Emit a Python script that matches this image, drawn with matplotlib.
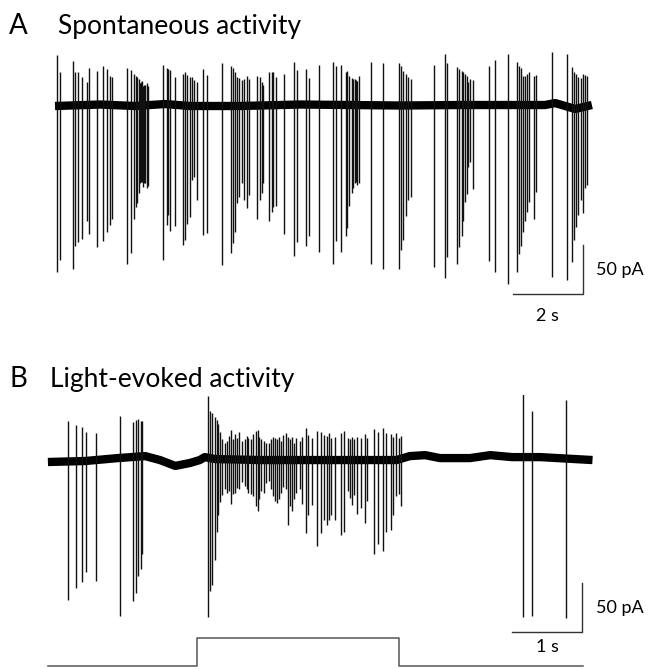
import numpy as np
import matplotlib
matplotlib.use("Agg")
import matplotlib.pyplot as plt

plt.rcParams['font.family'] = ['Lato', 'DejaVu Sans']

# ---------------- Panel A: spontaneous activity (time s, amplitude pA) ----------------
a_spike_t = [0.05, 0.14, 0.52, 0.57, 0.67, 0.76, 0.91, 0.98, 1.21, 1.38, 1.48, 1.57, 1.64,
             2.07, 2.16, 2.27, 2.31, 2.35, 2.39, 2.43, 2.46, 2.48, 2.52, 2.55, 2.57, 2.62, 2.67,
             3.08, 3.19, 3.24, 3.29, 3.43, 3.65, 3.71, 3.78, 3.86, 3.91, 3.97, 4.05, 4.24, 4.35,
             4.76, 5.02, 5.09, 5.14, 5.19, 5.27, 5.33, 5.40, 5.49, 5.53, 5.78, 5.86, 5.91, 5.95,
             6.12, 6.19, 6.24, 6.31, 6.54, 6.84, 6.92, 7.17, 7.26, 7.53, 7.93, 8.03, 8.17, 8.31,
             8.35, 8.41, 8.48, 8.52, 8.56, 8.60, 8.64, 8.68, 9.03, 9.36, 9.84, 9.89, 9.95, 10.03,
             10.09, 10.16, 10.83, 11.13, 11.21, 11.49, 11.55, 11.62, 11.67, 11.71, 11.76, 11.81,
             11.86, 11.95, 12.40, 12.57, 12.93, 13.19, 13.25, 13.31, 13.36, 13.43, 13.49, 13.55,
             13.69, 13.74, 14.20, 14.62, 14.76, 14.83, 14.89, 14.95, 15.02, 15.09, 15.15, 15.21]
a_spike_up = [52, 35, 45, 34, 34, 29, 23, 38, 34, 39, 37, 30, 29,
              38, 37, 33, 31, 29, 27, 23, 24, 25, 20, 21, 21, 23, 20,
              40, 37, 36, 35, 28, 32, 34, 31, 30, 30, 27, 24, 38, 32,
              44, 41, 39, 35, 30, 29, 27, 27, 30, 27, 30, 29, 24, 21,
              34, 34, 34, 29, 32, 44, 35, 36, 27, 41, 44, 40, 41, 34,
              35, 30, 28, 27, 27, 26, 25, 30, 44, 43, 43, 40, 35, 32,
              29, 27, 41, 52, 43, 39, 37, 35, 34, 32, 30, 24,
              27, 26, 40, 46, 52, 44, 40, 38, 30, 30, 32, 34,
              30, 31, 53, 54, 42, 37, 35, 32, 30, 34, 32, 31]
a_spike_down = [169, 157, 167, 144, 140, 137, 118, 132, 145, 139, 130, 123, 116,
                162, 150, 115, 103, 99, 89, 79, 78, 78, 83, 79, 79, 84, 83,
                159, 123, 113, 129, 124, 142, 137, 121, 113, 75, 72, 96, 132, 130,
                162, 150, 140, 129, 99, 93, 79, 96, 104, 91, 116, 96, 89, 79,
                118, 109, 104, 103, 132, 154, 140, 144, 134, 150, 162, 139, 150, 134,
                126, 103, 90, 85, 80, 79, 82, 79, 162, 167, 167, 147, 137, 113,
                96, 93, 165, 176, 155, 162, 145, 134, 118, 99, 91, 63,
                58, 86, 159, 170, 183, 170, 152, 144, 130, 118, 109, 99,
                116, 89, 177, 177, 157, 134, 121, 109, 94, 108, 83, 81]
a_base_t = [0.0, 1.29, 2.29, 3.14, 3.86, 5.29, 7.0, 9.86, 11.57, 14.0, 14.29, 14.86, 15.34]
a_base_pA = [0, 1.5, 0, 2, 0, 0, 1.5, 0.5, 1, 1, 3, -3, 1]

# ---------------- Panel B: light-evoked activity ----------------
b_spike_t = [0.25, 0.37, 0.45, 0.51, 0.66, 1.00, 1.18, 1.23, 1.26, 1.30, 1.32,
             2.26, 2.29, 2.32, 2.35, 2.38, 2.40, 2.43, 2.46, 2.50, 2.53, 2.56, 2.59, 2.61,
             2.64, 2.67, 2.70, 2.74, 2.78, 2.81, 2.83, 2.87, 2.90, 2.94, 2.97, 2.99, 3.02,
             3.05, 3.08, 3.13, 3.16, 3.19, 3.21, 3.24, 3.27, 3.30, 3.33, 3.37, 3.40, 3.43,
             3.46, 3.49, 3.52, 3.57, 3.60, 3.66, 3.69, 3.74, 3.82, 3.87, 3.92, 3.95, 3.99,
             4.02, 4.07, 4.15, 4.20, 4.25, 4.28, 4.31, 4.34, 4.39, 4.44, 4.50, 4.53, 4.63,
             4.69, 4.76, 4.80, 4.87, 4.90, 4.94, 4.98, 5.02,
             6.75, 6.88, 7.37]
b_spike_up = [41, 37, 35, 30, 28, 43, 36, 38, 38, 36, 36,
              63, 48, 46, 43, 40, 36, 28, 21, 17, 19, 24, 30, 21,
              26, 22, 28, 19, 21, 24, 22, 21, 26, 30, 31, 24, 21,
              19, 17, 17, 21, 24, 22, 21, 24, 19, 26, 28, 24, 21,
              24, 17, 22, 19, 24, 33, 26, 22, 30, 29, 26, 25, 28,
              22, 24, 28, 30, 22, 21, 24, 21, 24, 22, 27, 22, 32,
              29, 33, 28, 27, 24, 28, 22, 23,
              64, 47, 60]
b_spike_down = [141, 129, 123, 113, 123, 161, 147, 139, 122, 115, 100,
                163, 136, 129, 103, 74, 57, 44, 37, 30, 34, 32, 46, 35,
                34, 29, 30, 23, 27, 30, 34, 35, 37, 47, 52, 40, 32,
                34, 23, 21, 30, 37, 42, 44, 40, 34, 27, 30, 66, 47,
                52, 40, 34, 30, 45, 74, 56, 46, 88, 74, 61, 66, 61,
                56, 61, 76, 73, 32, 39, 46, 36, 55, 49, 64, 42, 96,
                86, 93, 73, 71, 56, 37, 35, 48,
                163, 162, 163]
b_base_t = [-0.03, 0.5, 0.97, 1.36, 1.57, 1.79, 2.0, 2.14, 2.21, 2.36, 3.0, 4.0, 4.95,
            5.14, 5.36, 5.57, 6.0, 6.29, 6.6, 7.0, 7.75]
b_base_pA = [0, 1, 4, 6, 2, -4, -1, 2, 5, 3, 2, 2, 2, 6, 7, 4, 4, 7, 5, 5, 2]
light_on_s = 2.10
light_off_s = 4.99
light_span_s = [-0.03, 7.62]

# ---------------- figure ----------------
W, H = 650, 669
fig = plt.figure(figsize=(W / 100, H / 100), dpi=100)


def make_ax(rect_px, x0_px, px_per_s, base_px, px_per_pA):
    left, top, right, bottom = rect_px
    ax = fig.add_axes([left / W, 1 - bottom / H, (right - left) / W, (bottom - top) / H])
    ax.set_xlim((left - x0_px) / px_per_s, (right - x0_px) / px_per_s)
    ax.set_ylim((base_px - bottom) / px_per_pA, (base_px - top) / px_per_pA)
    ax.axis('off')
    return ax


def draw_trace(ax, st, up, down, bt, bp):
    st = np.asarray(st, float)
    base = np.interp(st, bt, bp)
    ax.plot(bt, bp, color='black', lw=6.0, solid_capstyle='butt', solid_joinstyle='round')
    ax.vlines(st, base - np.asarray(down), base + np.asarray(up), color='#111111', lw=1.0)


# Panel A
axA = make_ax((0, 40, 650, 340), 55, 35.0, 106, 0.98)
draw_trace(axA, a_spike_t, a_spike_up, a_spike_down, a_base_t, a_base_pA)
# scale bars: 2 s, 50 pA
axA.plot([13.08, 15.08, 15.08], [-192, -192, -142], color='#333333', lw=1.0)
axA.text(15.47, -167, '50 pA', fontsize=13, va='center', ha='left')
axA.text(14.08, -214, '2 s', fontsize=13, va='center', ha='center')

# Panel B
axB = make_ax((0, 395, 650, 669), 50, 70.0, 462, 0.98)
draw_trace(axB, b_spike_t, b_spike_up, b_spike_down, b_base_t, b_base_pA)
axB.plot([6.60, 7.60, 7.60], [-173.5, -173.5, -123.5], color='#333333', lw=1.0)
axB.text(7.80, -149, '50 pA', fontsize=13, va='center', ha='left')
axB.text(7.10, -189, '1 s', fontsize=13, va='center', ha='center')
lo, hi = -208, -180
axB.plot([light_span_s[0], light_on_s, light_on_s, light_off_s, light_off_s, light_span_s[1]],
         [lo, lo, hi, hi, lo, lo], color='#555555', lw=1.1)

# Panel titles
fig.text(9 / W, 1 - 34 / H, 'A', fontsize=20, va='baseline', ha='left')
fig.text(58 / W, 1 - 34 / H, 'Spontaneous activity', fontsize=19, va='baseline', ha='left')
fig.text(10 / W, 1 - 387 / H, 'B', fontsize=20, va='baseline', ha='left')
fig.text(50 / W, 1 - 387 / H, 'Light-evoked activity', fontsize=19, va='baseline', ha='left')

fig.savefig('out.png', dpi=100, facecolor='white')
